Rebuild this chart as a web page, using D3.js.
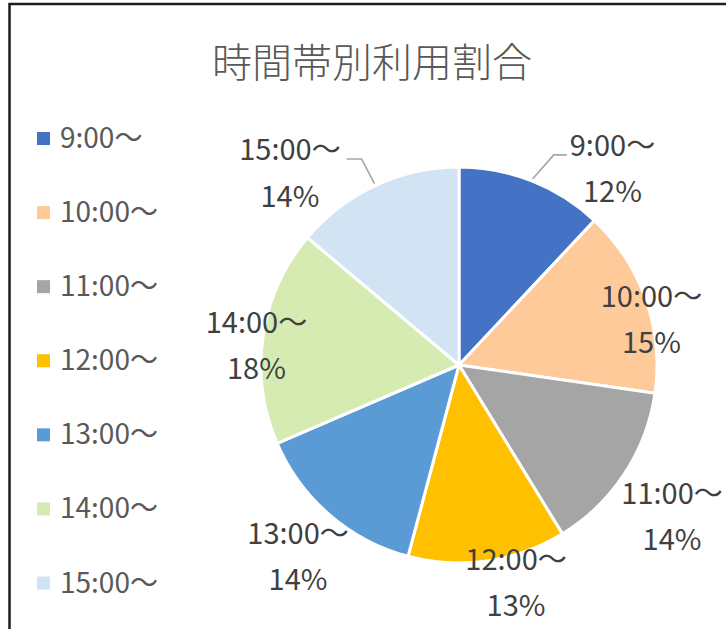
<!DOCTYPE html>
<html><head><meta charset="utf-8">
<script src="https://cdn.jsdelivr.net/npm/d3@7"></script>
<style>body{margin:0;background:#fff} svg{display:block}</style>
</head><body><svg id="c" width="726" height="629"></svg>
<script>
const title = "時間帯別利用割合";
const categories = ["9:00～","10:00～","11:00～","12:00～","13:00～","14:00～","15:00～"];
const values = [12.0, 15.3, 14.0, 12.9, 14.4, 17.6, 13.9];
const colors = ["#4472C4","#FFCA99","#A5A5A5","#FFC000","#5B9BD5","#D5EBB2","#D2E4F4"];
// layout only: label anchor offsets in units of pie radius, from the pie centre
const labelOffsets = [[0.775,-1.056],[0.972,-0.294],[1.076,0.702],[0.288,1.035],[-0.813,0.904],[-1.023,-0.162],[-0.854,-1.035]];
const leaderLines = [true,false,false,false,false,false,true];

const W = 726, H = 629;
const cx = 459, cy = 365, R = 198;
const FONT = "'Noto Sans CJK JP','Noto Sans',sans-serif";

const svg = d3.select("#c");
svg.append("rect").attr("x",9.5).attr("y",4).attr("width",900).attr("height",800)
  .attr("fill","#fff").attr("stroke","#1e1e1e").attr("stroke-width",2.5);

svg.append("text").attr("x",372).attr("y",77).attr("text-anchor","middle")
  .attr("font-family",FONT).attr("font-weight",300).attr("font-size",40)
  .attr("fill","#595959").text(title);

const color = d3.scaleOrdinal().domain(categories).range(colors);
const total = d3.sum(values);
const pct = d3.format(".0%");

const pie = d3.pie().sort(null).value(d => d.v);
const data = categories.map((c,i)=>({c, v:values[i], i}));
const arcs = pie(data);
const arc = d3.arc().innerRadius(0).outerRadius(R);

const g = svg.append("g").attr("transform",`translate(${cx},${cy})`);
g.selectAll("path.slice").data(arcs).join("path").attr("class","slice")
  .attr("d",arc).attr("fill",d=>color(d.data.c))
  .attr("stroke","#fff").attr("stroke-width",3).attr("stroke-linejoin","round");

const rs = d3.scaleLinear().domain([0,1]).range([0,R]);
const lab = g.selectAll("g.lab").data(arcs).join("g").attr("class","lab")
  .attr("transform",d=>`translate(${rs(labelOffsets[d.data.i][0])},${rs(labelOffsets[d.data.i][1])})`);
lab.append("text").attr("class","nm").attr("text-anchor","middle")
  .attr("font-family",FONT).attr("font-size",29).attr("fill","#404040")
  .text(d=>d.data.c);
lab.append("text").attr("y",46.5).attr("text-anchor","middle")
  .attr("font-family",FONT).attr("font-size",29).attr("fill","#404040")
  .text(d=>pct(d.data.v/total));

// leader lines
lab.each(function(d){
  if(!leaderLines[d.data.i]) return;
  const bb = d3.select(this).select("text.nm").node().getBBox();
  const ox = rs(labelOffsets[d.data.i][0]), oy = rs(labelOffsets[d.data.i][1]);
  const mid = (d.startAngle + d.endAngle)/2;
  const sx = Math.sin(mid)*(R+2), sy = -Math.cos(mid)*(R+2);
  const right = Math.sin(mid) > 0;
  const ex = right ? ox + bb.x - 3 : ox + bb.x + bb.width + 6;
  const ey = oy - 1;
  const elx = right ? ex - 13 : ex + 15;
  g.append("polyline").attr("points",`${sx},${sy} ${elx},${ey} ${ex},${ey}`)
    .attr("fill","none").attr("stroke","#a6a6a6").attr("stroke-width",1.6);
});

// legend
const ly = d3.scalePoint().domain(categories).range([138.5, 583]);
const leg = svg.append("g").selectAll("g").data(categories).join("g")
  .attr("transform",c=>`translate(37,${ly(c)})`);
leg.append("rect").attr("x",0).attr("y",-6.5).attr("width",13).attr("height",13).attr("fill",c=>color(c));
leg.append("text").attr("x",23).attr("y",9.5).attr("font-family",FONT).attr("font-size",28)
  .attr("fill","#595959").text(c=>c);
</script></body></html>
